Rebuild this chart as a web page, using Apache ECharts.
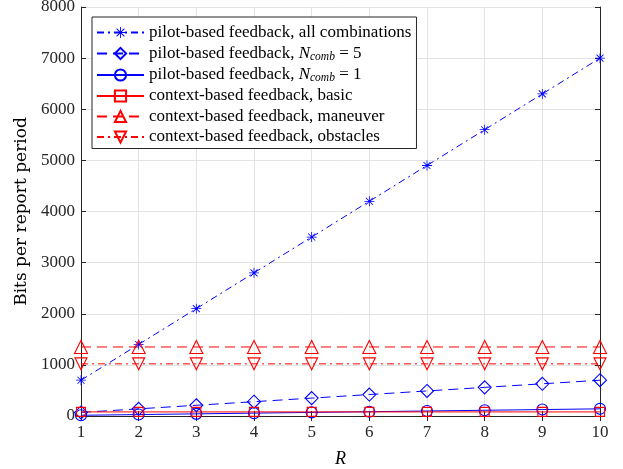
<!DOCTYPE html>
<html><head><meta charset="utf-8">
<script src="https://cdn.jsdelivr.net/npm/echarts@6/dist/echarts.min.js"></script>
<style>html,body{margin:0;padding:0;background:#fff}#c{width:623px;height:469px}</style>
</head><body><div id="c"></div>
<script>
var R = [1,2,3,4,5,6,7,8,9,10];
var allComb = [700,1400,2100,2800,3500,4200,4900,5600,6300,7000];
var comb5 = [70,140,210,280,350,420,490,560,630,700];
var comb1 = [14,28,42,56,70,84,98,112,126,140];
var basic = [80,80,80,80,80,80,80,80,80,80];
var maneuver = [1350,1350,1350,1350,1350,1350,1350,1350,1350,1350];
var obstacles = [1020,1020,1020,1020,1020,1020,1020,1020,1020,1020];
var yTicks = [0,1000,2000,3000,4000,5000,6000,7000,8000];

var FONT = 'Liberation Serif';
var star = 'path://M4.6,0 L5.4,0 L5.4,10 L4.6,10 Z M0,4.6 L10,4.6 L10,5.4 L0,5.4 Z M1.2,1.8 L1.8,1.2 L8.8,8.2 L8.2,8.8 Z M8.2,1.2 L8.8,1.8 L1.8,8.8 L1.2,8.2 Z';
var downTri = 'path://M0,0 L10,0 L5,9 Z';
var blue = '#0000ff', red = '#ff0000';
function hollow(c){return {color:'rgba(255,255,255,0)', borderColor:c, borderWidth:1.1};}
function mk(name, data, color, ltype, symbol, size, filled){
  return {name:name, type:'line', data:data.map(function(v,i){return [R[i],v];}),
    symbol:symbol, symbolSize:size, showSymbol:true,
    lineStyle:{color:color, width:1, type:ltype},
    itemStyle: filled ? {color:color, borderWidth:0} : hollow(color),
    emphasis:{disabled:true}, animation:false, z:3};
}
var series = [
  mk('all', allComb, blue, [7,4,2,4], star, 10, true),
  mk('c5', comb5, blue, [10,6], 'diamond', 13, false),
  mk('c1', comb1, blue, 'solid', 'circle', 11, false),
  mk('basic', basic, red, 'solid', 'rect', 9, false),
  mk('man', maneuver, red, [10,6], 'triangle', 13, false),
  mk('obs', obstacles, red, [7,4,2,4], downTri, 12, false)
];
var labels = {
  all:'{a|pilot-based feedback, all combinations}',
  c5:'{a|pilot-based feedback, }{i|N}{s|comb}{a| = 5}',
  c1:'{a|pilot-based feedback, }{i|N}{s|comb}{a| = 1}',
  basic:'{a|context-based feedback, basic}',
  man:'{a|context-based feedback, maneuver}',
  obs:'{a|context-based feedback, obstacles}'
};
var chart = echarts.init(document.getElementById('c'), null, {renderer:'canvas'});
var axisLine = {show:true, lineStyle:{color:'#262626', width:1}};
var FS = 17;
chart.setOption({
  animation:false,
  textStyle:{fontFamily:FONT},
  grid:{left:81, right:23, top:7, bottom:53, outerBoundsMode:'none', containLabel:false},
  legend:{
    left:92, top:17, orient:'vertical', itemWidth:47, itemHeight:14, itemGap:3.5,
    padding:[7,5,3,4],
    backgroundColor:'#fff', borderColor:'#262626', borderWidth:1,
    data:['all','c5','c1','basic','man','obs'],
    formatter:function(n){return labels[n];},
    textStyle:{fontFamily:FONT, fontSize:FS, color:'#000', lineHeight:14,
      rich:{a:{fontFamily:FONT, fontSize:FS, color:'#000', lineHeight:14},
            i:{fontFamily:FONT, fontSize:FS, fontStyle:'italic', color:'#000', lineHeight:14},
            s:{fontFamily:FONT, fontSize:11.5, fontStyle:'italic', color:'#000', lineHeight:8, padding:[6,0,0,0]}}},
    selectedMode:false
  },
  xAxis:[{
    type:'value', min:1, max:10, interval:1,
    name:'R', nameLocation:'middle', nameGap:34,
    nameTextStyle:{fontFamily:FONT, fontSize:18, fontStyle:'italic', color:'#000'},
    axisLine:axisLine, axisTick:{show:true, inside:true, length:5, lineStyle:{color:'#262626'}},
    axisLabel:{fontFamily:FONT, fontSize:FS, color:'#262626', margin:8},
    splitLine:{show:true, lineStyle:{color:'#e3e3e3', width:1}}
  },{
    type:'value', min:1, max:10, interval:1, position:'top',
    axisLine:axisLine, axisTick:{show:true, inside:true, length:5, lineStyle:{color:'#262626'}},
    axisLabel:{show:false}, splitLine:{show:false}
  }],
  yAxis:[{
    type:'value', min:0, max:8000, interval:1000,
    name:'Bits per report period', nameLocation:'middle', nameGap:46, nameRotate:90,
    nameTextStyle:{fontFamily:'DejaVu Serif', fontSize:17, color:'#000'},
    axisLine:axisLine, axisTick:{show:true, inside:true, length:5, lineStyle:{color:'#262626'}},
    axisLabel:{fontFamily:FONT, fontSize:FS, color:'#262626', margin:6,
      formatter:function(v){return yTicks.indexOf(v)>=0 ? String(v) : '';}},
    splitLine:{show:true, lineStyle:{color:'#e3e3e3', width:1}}
  },{
    type:'value', min:0, max:8000, interval:1000, position:'right',
    axisLine:axisLine, axisTick:{show:true, inside:true, length:5, lineStyle:{color:'#262626'}},
    axisLabel:{show:false}, splitLine:{show:false}
  }],
  series:series
});
</script></body></html>
